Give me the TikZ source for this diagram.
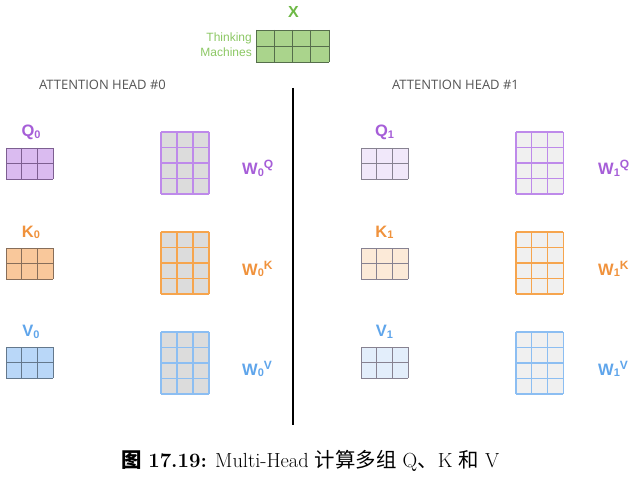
\documentclass[tikz,border=0pt]{standalone}
\usepackage{fontspec}
\newfontfamily\cjk{Noto Sans CJK SC}
\newfontfamily\lsans{Liberation Sans}
\newfontfamily\osans{Open Sans}
\definecolor{qlab}{RGB}{166,94,216}
\definecolor{qfill}{RGB}{218,187,240}
\definecolor{qfilll}{RGB}{241,232,250}
\definecolor{qline}{RGB}{125,95,145}
\definecolor{qwline}{RGB}{190,138,234}
\definecolor{klab}{RGB}{240,146,60}
\definecolor{kfill}{RGB}{249,200,155}
\definecolor{kfilll}{RGB}{252,234,216}
\definecolor{kline}{RGB}{135,110,90}
\definecolor{kwline}{RGB}{246,165,78}
\definecolor{vlab}{RGB}{95,165,235}
\definecolor{vfill}{RGB}{185,215,248}
\definecolor{vfilll}{RGB}{227,238,251}
\definecolor{vline}{RGB}{100,120,140}
\definecolor{vwline}{RGB}{140,190,242}
\definecolor{lgline}{RGB}{135,130,145}
\definecolor{wfill}{RGB}{220,220,220}
\definecolor{wfilll}{RGB}{240,240,240}
\definecolor{xlab}{RGB}{110,185,70}
\definecolor{xfill}{RGB}{170,212,140}
\definecolor{xline}{RGB}{85,110,75}
\definecolor{xtext}{RGB}{140,200,100}
\definecolor{headgray}{RGB}{85,85,85}
% name, x0, y0, cols, rows, cell w, cell h, fill, line style
\newcommand\drawmat[9]{%
  \fill[#8] (#2,#3) rectangle ++({#4*#6},{#5*#7});
  \foreach \i in {0,...,#4}{\draw[#9] ({#2+\i*#6},#3) -- ++(0,{#5*#7});}
  \foreach \j in {0,...,#5}{\draw[#9] (#2,{#3+\j*#7}) -- ++({#4*#6},0);}
  \coordinate (#1) at ({#2+#4*#6/2},{#3+#5*#7/2});
}
\newcommand\lsub[1]{\raisebox{-1.5pt}{\fontsize{11}{12}\selectfont #1}}
\newcommand\wsub[1]{\raisebox{-1.5pt}{\fontsize{11}{12}\selectfont #1}}
\newcommand\wsup[1]{\raisebox{6pt}{\fontsize{12}{13}\selectfont #1}}
\tikzset{
  lab/.style={font=\lsans\bfseries\fontsize{16.5}{17}\selectfont, inner sep=0pt, anchor=base},
  wlab/.style={font=\lsans\bfseries\fontsize{16.5}{17}\selectfont, inner sep=0pt, anchor=base west},
  headtxt/.style={font=\osans\fontsize{13}{14}\selectfont, text=headgray, inner sep=0pt},
  thin grid/.style={line width=0.9pt},
  thick grid/.style={line width=1.1pt},
}
\begin{document}
\begin{tikzpicture}[x=1pt,y=-1pt]
\useasboundingbox (0,0) rectangle (639,478);
\fill[white] (0,0) rectangle (639,478);
% X
\node[font=\lsans\bfseries\fontsize{16}{17}\selectfont, text=xlab, inner sep=0pt, anchor=base] (xl) at (293.5,18) {X};
\node[font=\lsans\fontsize{12}{15}\selectfont, text=xtext, align=right, anchor=east, inner sep=0pt] (tm) at (252,45) {Thinking\\Machines};
\drawmat{X}{256}{30}{4}{2}{18.25}{16}{xfill}{xline,thin grid}
% heads
\node[headtxt] (h0) at (102.5,85) {ATTENTION HEAD \#0};
\node[headtxt] (h1) at (455.5,85) {ATTENTION HEAD \#1};
\coordinate (lt) at (293,88);
\coordinate (lb) at (293,425);
\draw[line width=1.3pt] (lt) -- (lb);
% head 0
\drawmat{Q0}{6}{148}{3}{2}{15.67}{15.5}{qfill}{qline,thin grid}
\drawmat{K0}{6}{248}{3}{2}{15.67}{15.5}{kfill}{kline,thin grid}
\drawmat{V0}{6}{347}{3}{2}{15.67}{15.5}{vfill}{vline,thin grid}
\drawmat{WQ0}{161}{132}{3}{4}{16}{15.5}{wfill}{qwline,thick grid}
\drawmat{WK0}{161}{232}{3}{4}{16}{15.5}{wfill}{kwline,thick grid}
\drawmat{WV0}{161}{332}{3}{4}{16}{15.5}{wfill}{vwline,thick grid}
\node[lab, text=qlab] (lq0) at (31,137) {Q\lsub{0}};
\node[lab, text=klab] (lk0) at (31,237) {K\lsub{0}};
\node[lab, text=vlab] (lv0) at (31,336.5) {V\lsub{0}};
\node[wlab, text=qlab] (lwq0) at (242,175) {W\wsub{0}\wsup{Q}};
\node[wlab, text=klab] (lwk0) at (242,275) {W\wsub{0}\wsup{K}};
\node[wlab, text=vlab] (lwv0) at (242,375) {W\wsub{0}\wsup{V}};
% head 1
\drawmat{Q1}{361}{148}{3}{2}{15.67}{15.5}{qfilll}{lgline,thin grid}
\drawmat{K1}{361}{248}{3}{2}{15.67}{15.5}{kfilll}{lgline,thin grid}
\drawmat{V1}{361}{347}{3}{2}{15.67}{15.5}{vfilll}{lgline,thin grid}
\drawmat{WQ1}{516}{132}{3}{4}{15.8}{15.5}{wfilll}{qwline,thick grid}
\drawmat{WK1}{516}{232}{3}{4}{15.8}{15.5}{wfilll}{kwline,thick grid}
\drawmat{WV1}{516}{332}{3}{4}{15.8}{15.5}{wfilll}{vwline,thick grid}
\node[lab, text=qlab] (lq1) at (384.5,137) {Q\lsub{1}};
\node[lab, text=klab] (lk1) at (384.5,237) {K\lsub{1}};
\node[lab, text=vlab] (lv1) at (384.5,336.5) {V\lsub{1}};
\node[wlab, text=qlab] (lwq1) at (598,175) {W\wsub{1}\wsup{Q}};
\node[wlab, text=klab] (lwk1) at (598,275) {W\wsub{1}\wsup{K}};
\node[wlab, text=vlab] (lwv1) at (598,375) {W\wsub{1}\wsup{V}};
% caption
\node[inner sep=0pt, anchor=base, font=\fontsize{20.4}{24}\selectfont] (cap) at (310.5,467.5) {{\cjk\bfseries 图} \textbf{17.19:} Multi-Head {\cjk 计算多组} Q{\cjk 、}K {\cjk 和} V};
\end{tikzpicture}
\end{document}
